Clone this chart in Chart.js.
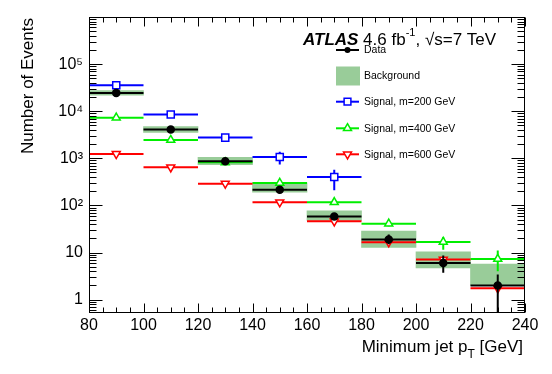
<!DOCTYPE html>
<html>
<head>
<meta charset="utf-8">
<script src="https://cdn.jsdelivr.net/npm/chart.js@4.4.1/dist/chart.umd.min.js"></script>
<style>
  body { margin: 0; background: #fff; }
  canvas { display: block; }
</style>
</head>
<body>
<canvas id="plot" width="552" height="374"></canvas>
<script>
// bins of minimum jet pT [GeV]
var binEdges = [80, 100, 120, 140, 160, 180, 200, 220, 240];
var binCenters = [90, 110, 130, 150, 170, 190, 210, 230];

// observed data
var dataCounts = [24500, 4100, 870, 215, 58, 19, 6, 2];
var dataLow = [24300, 4040, 840, 200, 51, 15, 3.7, 0.3];
var dataHigh = [24700, 4160, 900, 232, 66, 24, 8.6, 3.4];

// background uncertainty band
var bkgLow = [21800, 3550, 735, 190, 48, 12.9, 4.7, 2.0];
var bkgHigh = [27400, 4700, 1050, 300, 77, 28.6, 10.3, 5.7];

// signals
var sig200 = [35500, 8500, 2750, 1070, 400];
var sig200Low = [35000, 8300, 2650, 735, 209];
var sig200High = [36000, 8700, 2850, 1370, 575];
var sig400 = [7300, 2450, 820, 300, 117, 41, 16.8, 7.3];
var sig400Low = [7250, 2420, 805, 290, 111, 36, 11.5, 4.0];
var sig400High = [7350, 2480, 835, 310, 124, 47, 21.4, 11];
var sig600 = [1240, 645, 290, 117, 46, 16.5, 7.1, 1.74];

// axes
var yTickValues = [1, 10, 100, 1000, 10000, 100000];
var yTickLabels = ['1', '10', '10\u00b2', '10\u00b3', '10\u2074', '10\u2075'];
var yTitle = 'Number of Events';

var FONT = "'Liberation Sans', Arial, Helvetica, sans-serif";
var BLUE = '#0000ff', GREEN = '#00ee00', RED = '#ff0000', BAND = '#99cc99';

function segments(vals) {
  var pts = [];
  vals.forEach(function(v, i) {
    pts.push({x: binEdges[i], y: v}, {x: binEdges[i + 1], y: v}, {x: binEdges[i + 1], y: null});
  });
  return pts;
}
function errorBars(lo, hi) {
  var pts = [];
  lo.forEach(function(l, i) {
    pts.push({x: binCenters[i], y: l}, {x: binCenters[i], y: hi[i]}, {x: binCenters[i], y: null});
  });
  return pts;
}
function markers(vals) {
  return vals.map(function(v, i) { return {x: binCenters[i], y: v}; });
}
function lineSet(pts, color, order) {
  return {type: 'line', data: pts, borderColor: color, borderWidth: 2, pointRadius: 0,
          fill: false, tension: 0, spanGaps: false, order: order};
}
function markerSet(pts, color, style, rot, radius, filled, order) {
  return {type: 'line', data: pts, showLine: false, pointStyle: style, pointRotation: rot,
          pointRadius: radius, pointBorderColor: color, pointBorderWidth: 1.5,
          pointBackgroundColor: filled ? color : '#fff', order: order};
}

var legendRows = [
  {label: 'Data', y: 50, kind: 'data'},
  {label: 'Background', y: 76, kind: 'band'},
  {label: 'Signal, m=200 GeV', y: 101.7, color: BLUE, style: 'rect', rot: 0},
  {label: 'Signal, m=400 GeV', y: 128.3, color: GREEN, style: 'triangle', rot: 0},
  {label: 'Signal, m=600 GeV', y: 154.3, color: RED, style: 'triangle', rot: 180}
];

function point(ctx, style, r, rot, x, y) {
  Chart.helpers.drawPoint(ctx, {pointStyle: style, radius: r, rotation: rot, borderWidth: ctx.lineWidth}, x, y);
}

var frame = {
  id: 'frame',
  afterDraw: function(chart) {
    var ctx = chart.ctx, a = chart.chartArea, xs = chart.scales.x, ys = chart.scales.y;
    ctx.save();
    ctx.strokeStyle = '#000';
    ctx.lineWidth = 1;
    var L = Math.round(a.left) + 0.5, R = Math.round(a.right) - 0.5;
    var T = Math.round(a.top) + 0.5, B = Math.round(a.bottom) - 0.5;
    ctx.strokeRect(L, T, R - L, B - T);
    ctx.beginPath();
    for (var v = 80; v <= 240; v += 5) {
      var px = Math.round(xs.getPixelForValue(v)) + 0.5;
      var len = v % 20 === 0 ? 9 : 5;
      ctx.moveTo(px, B); ctx.lineTo(px, B - len);
      ctx.moveTo(px, T); ctx.lineTo(px, T + len);
    }
    for (var d = -1; d <= 6; d++) {
      for (var m = 1; m <= 9; m++) {
        var val = m * Math.pow(10, d);
        if (val < ys.min || val > ys.max) continue;
        var py = Math.round(ys.getPixelForValue(val)) + 0.5;
        var ln = m === 1 ? 13 : 7;
        ctx.moveTo(L, py); ctx.lineTo(L + ln, py);
        ctx.moveTo(R, py); ctx.lineTo(R - ln, py);
      }
    }
    ctx.stroke();

    ctx.fillStyle = '#000';
    // y title
    ctx.save();
    ctx.font = '17px ' + FONT;
    ctx.translate(33, a.top + 1);
    ctx.rotate(-Math.PI / 2);
    ctx.textAlign = 'right';
    ctx.textBaseline = 'alphabetic';
    ctx.fillText(yTitle, 0, 0);
    ctx.restore();

    // x title with subscript
    ctx.textBaseline = 'alphabetic';
    ctx.textAlign = 'left';
    var big = '17px ' + FONT, small = '12px ' + FONT;
    ctx.font = big; var w1 = ctx.measureText('Minimum jet p').width;
    var w3 = ctx.measureText(' [GeV]').width;
    ctx.font = small; var w2 = ctx.measureText('T').width;
    var x0 = 523 - (w1 + w2 + w3);
    ctx.font = big; ctx.fillText('Minimum jet p', x0, 352);
    ctx.font = small; ctx.fillText('T', x0 + w1, 358);
    ctx.font = big; ctx.fillText(' [GeV]', x0 + w1 + w2, 352);

    // ATLAS label
    var x = 303;
    ctx.font = 'italic bold 17px ' + FONT;
    ctx.fillText('ATLAS', x, 45);
    x += ctx.measureText('ATLAS').width;
    ctx.font = big;
    ctx.fillText(' 4.6 fb', x, 45);
    x += ctx.measureText(' 4.6 fb').width;
    ctx.font = '11px ' + FONT;
    ctx.fillText('-1', x, 36);
    x += ctx.measureText('-1').width;
    ctx.font = big;
    ctx.fillText(', \u221as=7 TeV', x, 45);

    // legend
    ctx.font = '10.5px ' + FONT;
    ctx.textBaseline = 'middle';
    legendRows.forEach(function(row) {
      ctx.fillStyle = '#000';
      ctx.fillText(row.label, 364, row.y + 0.5);
      if (row.kind === 'band') {
        ctx.fillStyle = BAND;
        ctx.fillRect(336, row.y - 9.5, 24, 19);
        return;
      }
      var c = row.kind === 'data' ? '#000' : row.color;
      ctx.strokeStyle = c;
      ctx.lineWidth = 2;
      ctx.beginPath();
      ctx.moveTo(336, row.y); ctx.lineTo(359, row.y);
      ctx.stroke();
      if (row.kind === 'data') {
        ctx.fillStyle = '#000';
        ctx.lineWidth = 0;
        ctx.beginPath(); ctx.arc(347.5, row.y, 3, 0, Math.PI * 2); ctx.fill();
      } else {
        ctx.fillStyle = '#fff';
        ctx.lineWidth = 1.5;
        point(ctx, row.style, row.style === 'rect' ? 4.8 : 4.6, row.rot, 347.5, row.y);
      }
    });
    ctx.restore();
  }
};

new Chart(document.getElementById('plot').getContext('2d'), {
  type: 'line',
  data: {
    datasets: [
      markerSet(markers(dataCounts), '#000', 'circle', 0, 3.5, true, 0),
      lineSet(errorBars(dataLow, dataHigh), '#000', 1),
      lineSet(segments(dataCounts), '#000', 1),
      markerSet(markers(sig600), RED, 'triangle', 180, 4.6, false, 2),
      lineSet(segments(sig600), RED, 3),
      markerSet(markers(sig400), GREEN, 'triangle', 0, 4.6, false, 4),
      lineSet(errorBars(sig400Low, sig400High), GREEN, 5),
      lineSet(segments(sig400), GREEN, 5),
      markerSet(markers(sig200), BLUE, 'rect', 0, 5, false, 6),
      lineSet(errorBars(sig200Low, sig200High), BLUE, 7),
      lineSet(segments(sig200), BLUE, 7),
      {
        type: 'bar',
        data: binCenters.map(function(c, i) { return {x: c, y: [bkgLow[i], bkgHigh[i]]}; }),
        backgroundColor: BAND,
        borderWidth: 0,
        barPercentage: 1,
        categoryPercentage: 1,
        order: 10
      }
    ]
  },
  options: {
    responsive: false,
    animation: false,
    events: [],
    layout: {padding: {top: 17, right: 27, left: 0, bottom: 0}},
    plugins: {legend: {display: false}, tooltip: {enabled: false}},
    scales: {
      x: {
        type: 'linear',
        min: 80,
        max: 240,
        offset: false,
        grid: {display: false, drawTicks: false},
        border: {display: false},
        ticks: {stepSize: 20, autoSkip: false, maxRotation: 0, padding: 3,
                color: '#000', font: {family: FONT, size: 16}},
        afterFit: function(s) { s.height = 61; }
      },
      y: {
        type: 'logarithmic',
        min: 0.52,
        max: 1e6,
        grid: {display: false, drawTicks: false},
        border: {display: false},
        ticks: {padding: 6, color: '#000', font: {family: FONT, size: 16},
                callback: function(v) {
                  var i = yTickValues.indexOf(v);
                  return i < 0 ? '' : yTickLabels[i];
                }},
        afterBuildTicks: function(s) {
          s.ticks = yTickValues.map(function(v) { return {value: v}; });
        },
        afterFit: function(s) { s.width = 89; }
      }
    }
  },
  plugins: [frame]
});
</script>
</body>
</html>
